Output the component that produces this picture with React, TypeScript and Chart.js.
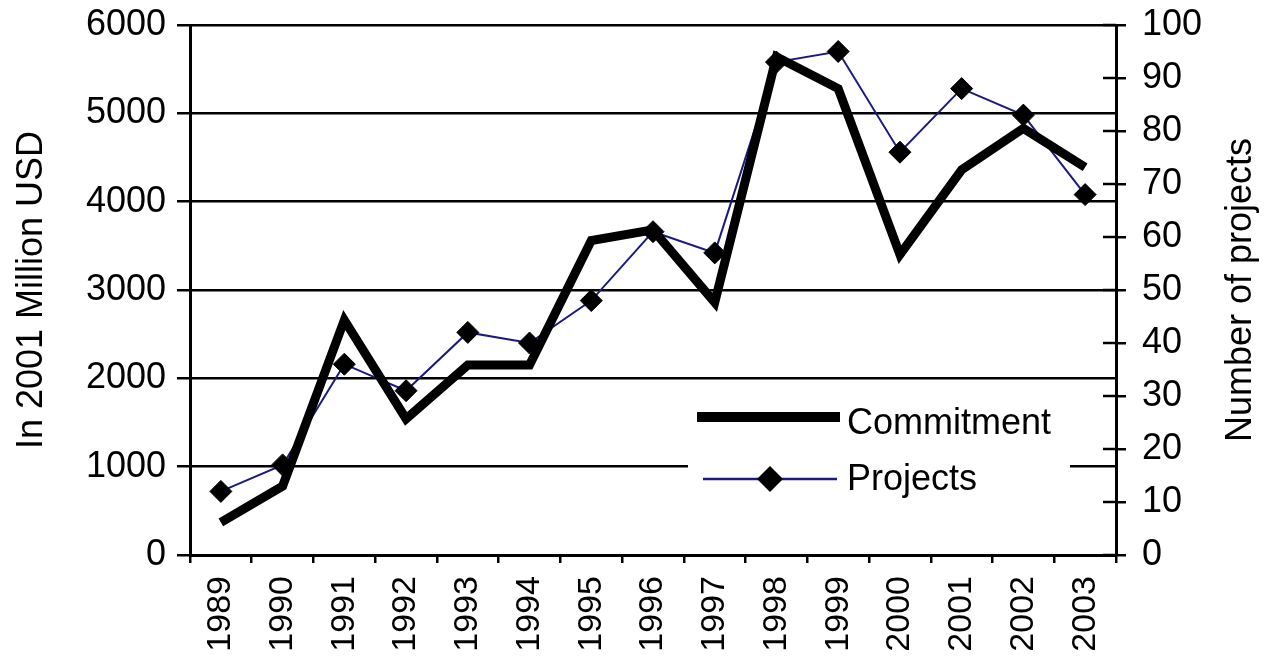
import React, { useEffect, useRef } from 'react';
import { Chart, registerables } from 'chart.js';

Chart.register(...registerables);

const years = ['1989', '1990', '1991', '1992', '1993', '1994', '1995', '1996', '1997', '1998', '1999', '2000', '2001', '2002', '2003'];
const commitment = [370, 780, 2660, 1540, 2150, 2150, 3560, 3680, 2860, 5640, 5280, 3400, 4360, 4830, 4390];
const projects = [12, 17, 36, 31, 42, 40, 48, 61, 57, 93, 95, 76, 88, 83, 68];

const leftMin = 0;
const leftMax = 6000;
const leftStep = 1000;
const rightMin = 0;
const rightMax = 100;
const rightStep = 10;

const leftTitle = 'In 2001 Million USD';
const rightTitle = 'Number of projects';
const seriesLabels = ['Commitment', 'Projects'];

const FONT = '"Liberation Sans", Arial, sans-serif';

const extrasPlugin = {
  id: 'extras',
  afterDraw(chart: any) {
    const ctx = chart.ctx;
    const area = chart.chartArea;
    const y1 = chart.scales.y1;
    ctx.save();
    // inner parts of right-axis ticks
    ctx.strokeStyle = '#000';
    ctx.lineWidth = 2.5;
    y1.ticks.forEach((t: any) => {
      const py = y1.getPixelForValue(t.value);
      ctx.beginPath();
      ctx.moveTo(area.right - 13, py);
      ctx.lineTo(area.right, py);
      ctx.stroke();
    });

    // right title (reads bottom to top)
    ctx.fillStyle = '#000';
    ctx.font = `36px ${FONT}`;
    ctx.translate(1241, (area.top + area.bottom) / 2);
    ctx.rotate(-Math.PI / 2);
    ctx.textAlign = 'center';
    ctx.textBaseline = 'middle';
    ctx.fillText(rightTitle, 0, 0);
    ctx.restore();

    // legend
    ctx.save();
    ctx.fillStyle = '#fff';
    ctx.fillRect(688, 392, 382, 118);
    const ds0 = chart.data.datasets[0];
    const ds1 = chart.data.datasets[1];
    ctx.strokeStyle = ds0.borderColor;
    ctx.lineWidth = 10;
    ctx.lineCap = 'butt';
    ctx.beginPath();
    ctx.moveTo(697, 417);
    ctx.lineTo(840, 417);
    ctx.stroke();

    ctx.strokeStyle = ds1.borderColor;
    ctx.lineWidth = 2.5;
    ctx.beginPath();
    ctx.moveTo(703, 479);
    ctx.lineTo(837, 479);
    ctx.stroke();
    ctx.fillStyle = '#000';
    ctx.beginPath();
    ctx.moveTo(770, 466);
    ctx.lineTo(783, 479);
    ctx.lineTo(770, 492);
    ctx.lineTo(757, 479);
    ctx.closePath();
    ctx.fill();

    ctx.fillStyle = '#000';
    ctx.font = `36px ${FONT}`;
    ctx.textAlign = 'left';
    ctx.textBaseline = 'middle';
    ctx.fillText(ds0.label, 847, 424);
    ctx.fillText(ds1.label, 847, 480);
    ctx.restore();
  },
};

export default function App() {
  const ref = useRef<HTMLCanvasElement | null>(null);

  useEffect(() => {
    if (!ref.current) return;
    const chart = new Chart(ref.current, {
      type: 'line',
      data: {
        labels: years,
        datasets: [
          {
            label: seriesLabels[0],
            data: commitment,
            yAxisID: 'y',
            borderColor: '#000',
            borderWidth: 9,
            borderJoinStyle: 'miter',
            borderCapStyle: 'butt',
            pointRadius: 0,
            fill: false,
            tension: 0,
          },
          {
            label: seriesLabels[1],
            data: projects,
            yAxisID: 'y1',
            borderColor: '#1a1a80',
            borderWidth: 2,
            pointStyle: 'rectRot',
            pointRadius: 11,
            pointBackgroundColor: '#000',
            pointBorderColor: '#000',
            pointBorderWidth: 1,
            fill: false,
            tension: 0,
          },
        ],
      },
      options: {
        responsive: false,
        animation: false,
        devicePixelRatio: 1,
        layout: { padding: { top: 25, left: 0, right: 0, bottom: 0 } },
        plugins: {
          legend: { display: false },
          tooltip: { enabled: false },
        },
        scales: {
          x: {
            type: 'category',
            offset: true,
            grid: {
              offset: true,
              drawOnChartArea: false,
              drawTicks: true,
              tickLength: 8,
              color: '#000',
              lineWidth: 2.5,
            },
            border: { color: '#000', width: 3 },
            ticks: {
              autoSkip: false,
              minRotation: 90,
              maxRotation: 90,
              padding: 13,
              color: '#000',
              font: { family: FONT, size: 34 },
            },
            afterFit: (s: any) => {
              s.height = 102;
              s.paddingLeft = 0;
              s.paddingRight = 0;
            },
          },
          y: {
            position: 'left',
            min: leftMin,
            max: leftMax,
            ticks: {
              stepSize: leftStep,
              padding: 11,
              color: '#000',
              font: { family: FONT, size: 36 },
              callback: (v: any) => String(v),
            },
            grid: {
              color: '#000',
              lineWidth: 2.5,
              tickLength: 13,
              drawTicks: true,
            },
            border: { color: '#000', width: 3 },
            title: {
              display: true,
              text: leftTitle,
              color: '#000',
              font: { family: FONT, size: 36 },
              padding: { top: 10, bottom: 0 },
            },
            afterFit: (s: any) => {
              s.width = 190;
              s.paddingTop = 0;
              s.paddingBottom = 0;
            },
          },
          y1: {
            position: 'right',
            min: rightMin,
            max: rightMax,
            ticks: {
              stepSize: rightStep,
              padding: 16,
              color: '#000',
              font: { family: FONT, size: 36 },
              callback: (v: any) => String(v),
            },
            grid: {
              drawOnChartArea: false,
              color: '#000',
              lineWidth: 2.5,
              tickLength: 10,
              drawTicks: true,
            },
            border: { color: '#000', width: 3 },
            afterFit: (s: any) => {
              s.width = 148;
              s.paddingTop = 0;
              s.paddingBottom = 0;
            },
          },
        },
      },
      plugins: [extrasPlugin],
    } as any);
    return () => chart.destroy();
  }, []);

  return (
    <div style={{ position: 'fixed', left: 0, top: 0, width: 1264, height: 657, background: '#fff' }}>
      <canvas ref={ref} width={1264} height={657} style={{ display: 'block', width: 1264, height: 657 }} />
    </div>
  );
}
